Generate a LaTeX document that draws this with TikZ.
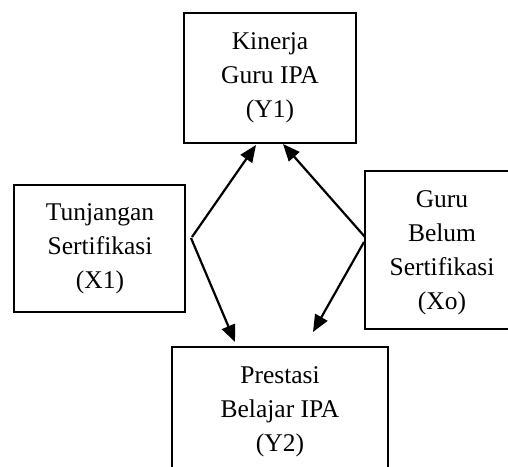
\documentclass[tikz,border=0pt]{standalone}
\usepackage{fontspec}
\setmainfont{Liberation Serif}
\usetikzlibrary{arrows.meta}
\begin{document}
\begin{tikzpicture}[x=1pt,y=-1pt,
  box/.style={draw=black,line width=2pt,inner sep=0pt,rectangle},
  lbl/.style={inner sep=0pt,align=center,font=\fontsize{25.5}{34}\selectfont},
  arr/.style={line width=2.2pt,-{Triangle[length=17pt,width=14pt]}}]
\useasboundingbox (0,0) rectangle (508,466);
% boxes
\node[box,minimum width=172pt,minimum height=130pt] (y1) at (270,78) {};
\node[box,minimum width=171pt,minimum height=127pt] (x1) at (99.5,248.5) {};
\node[box,minimum width=170pt,minimum height=158pt] (xo) at (450,250) {};
\node[box,minimum width=216pt,minimum height=160pt] (y2) at (280,427) {};
% texts
\node[lbl] (ty1) at (270,77.5) {Kinerja\\Guru IPA\\(Y1)};
\node[lbl] (tx1) at (100,248.5) {Tunjangan\\Sertifikasi\\(X1)};
\node[lbl] (txo) at (442,253) {Guru\\Belum\\Sertifikasi\\(Xo)};
\node[lbl] (ty2) at (280,411.5) {Prestasi\\Belajar IPA\\(Y2)};
% connector end points
\coordinate (s1) at (192,237);
\coordinate (e1) at (256,145);
\coordinate (s2) at (365,237);
\coordinate (e2) at (283,144);
\coordinate (s3) at (191,238);
\coordinate (e3) at (235,342);
\coordinate (s4) at (364,242);
\coordinate (e4) at (313,332);
\draw[arr] (s1) -- (e1);
\draw[arr] (s2) -- (e2);
\draw[arr] (s3) -- (e3);
\draw[arr] (s4) -- (e4);
\end{tikzpicture}
\end{document}
